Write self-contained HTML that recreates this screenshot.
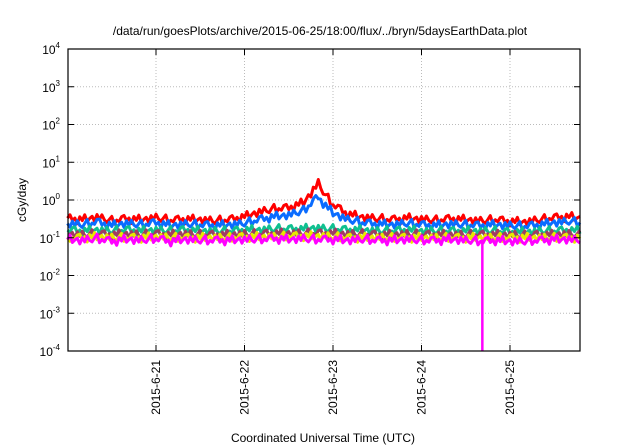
<!DOCTYPE html>
<html><head><meta charset="utf-8"><style>
html,body{margin:0;padding:0;background:#fff;}
svg{display:block;font-family:"Liberation Sans",sans-serif;}
</style></head><body>
<svg id="chart" width="640" height="448" viewBox="0 0 640 448">
<text x="320" y="35" text-anchor="middle" font-size="12">/data/run/goesPlots/archive/2015-06-25/18:00/flux/../bryn/5daysEarthData.plot</text>
<text transform="translate(26,200) rotate(-90)" text-anchor="middle" font-size="12">cGy/day</text>
<text x="323" y="442" text-anchor="middle" font-size="12">Coordinated Universal Time (UTC)</text>
<g id="grid"></g><g id="series"></g><g id="axes"></g>
</svg>
<script>
const hours = [0,4,8,12,16,20,24,28,32,36,40,44,48,52,56,60,64,66,68,70,72,76,80,84,88,92,96,100,104,108,112,116,120,124,128,132,136,139];
const red     = [0.33,0.30,0.35,0.28,0.32,0.30,0.34,0.29,0.31,0.30,0.28,0.30,0.36,0.48,0.58,0.62,0.85,1.5,2.8,1.3,0.75,0.42,0.35,0.32,0.30,0.33,0.31,0.29,0.32,0.30,0.28,0.30,0.27,0.26,0.30,0.34,0.36,0.33];
const blue    = [0.24,0.22,0.26,0.21,0.24,0.22,0.25,0.21,0.23,0.22,0.21,0.22,0.24,0.30,0.36,0.40,0.52,0.8,1.2,0.7,0.45,0.30,0.25,0.23,0.22,0.24,0.22,0.21,0.23,0.22,0.21,0.22,0.21,0.20,0.22,0.25,0.27,0.25];
const green   = [0.16,0.15,0.16,0.15,0.16,0.15,0.16,0.15,0.16,0.15,0.15,0.15,0.16,0.16,0.17,0.17,0.17,0.18,0.18,0.17,0.17,0.16,0.16,0.15,0.15,0.16,0.15,0.15,0.15,0.15,0.15,0.15,0.14,0.14,0.15,0.15,0.16,0.15];
const brown   = [0.125,0.12,0.125,0.12,0.125,0.12,0.125,0.12,0.125,0.12,0.12,0.12,0.125,0.125,0.13,0.13,0.13,0.13,0.13,0.13,0.13,0.125,0.125,0.12,0.12,0.125,0.12,0.12,0.12,0.12,0.12,0.12,0.12,0.115,0.12,0.12,0.125,0.12];
const yellow  = [0.10,0.10,0.105,0.10,0.10,0.10,0.105,0.10,0.10,0.10,0.10,0.10,0.105,0.105,0.105,0.11,0.11,0.11,0.11,0.11,0.105,0.10,0.10,0.10,0.10,0.10,0.10,0.10,0.10,0.10,0.10,0.10,0.10,0.10,0.10,0.10,0.10,0.10];
const magenta = [0.09,0.085,0.095,0.08,0.09,0.085,0.095,0.08,0.09,0.085,0.085,0.085,0.09,0.09,0.095,0.09,0.095,0.09,0.09,0.09,0.09,0.085,0.09,0.085,0.085,0.09,0.085,0.085,0.09,0.085,0.08,0.085,0.08,0.08,0.085,0.09,0.09,0.085];
const spikeHour = 112.5;
const yTickExp = [-4,-3,-2,-1,0,1,2,3,4];
const xTickLabels = ["2015-6-21","2015-6-22","2015-6-23","2015-6-24","2015-6-25"];
const xTickHours = [24,48,72,96,120];
const jitter = [-4,2,-1,5,-3,1,-5,3,0,-2,4,-3,2,-4,1,3,-1,-5,4,0,2,-3];

const L=68,R=580,T=49,B=351;
const HMAX=(R-67.5)/88.5*24;
const xs=h=>67.5+h/24*88.5;
const ys=v=>B-(Math.log10(v)+4)*(B-T)/8;
const NS="http://www.w3.org/2000/svg";
function mk(tag,attrs,parent){const e=document.createElementNS(NS,tag);for(const k in attrs)e.setAttribute(k,attrs[k]);parent.appendChild(e);return e;}
const grid=document.getElementById('grid'),ser=document.getElementById('series'),ax=document.getElementById('axes');

yTickExp.forEach(e=>{
  const y=ys(Math.pow(10,e));
  if(e>-4&&e<4){const g=mk('line',{x1:L,x2:R,y1:y,y2:y,stroke:'#bbb','stroke-dasharray':'1,2'},grid);
  
  }
  const t1=mk('line',{x1:L,x2:L+6,y1:y,y2:y,stroke:'#000'},ax);
  
  
  const t2=mk('line',{x1:R,x2:R-6,y1:y,y2:y,stroke:'#000'},ax);
  
  
  const tx=mk('text',{x:L-8,y:y+5,'text-anchor':'end','font-size':'12'},ax);
  
  
  tx.textContent='10';
  const sup=mk('tspan',{dy:-6,'font-size':'8'},tx);sup.textContent=String(e);
});
xTickHours.forEach((h,i)=>{
  const x=xs(h);
  const g=mk('line',{x1:x,x2:x,y1:T,y2:B,stroke:'#bbb','stroke-dasharray':'1,2'},grid);
  
  
  const t1=mk('line',{x1:x,x2:x,y1:B,y2:B-6,stroke:'#000'},ax);
  
  
  const t2=mk('line',{x1:x,x2:x,y1:T,y2:T+6,stroke:'#000'},ax);
  
  
  const tx=mk('text',{transform:`translate(${x+4},${B+9}) rotate(-90)`,'text-anchor':'end','font-size':'12'},ax);
  
  
  tx.textContent=xTickLabels[i];
});
const frame=mk('rect',{x:L,y:T,width:R-L,height:B-T,fill:'none',stroke:'#000','stroke-width':1.2},ax);



const list=[[magenta,'#ff00ff','magenta'],[yellow,'#e8e800','yellow'],[brown,'#a03c64','brown'],[green,'#10c090','green'],[blue,'#0a6cff','blue'],[red,'#ff0000','red']];
let jc=0;
list.slice().reverse().forEach(([arr,col,nm])=>{
  const pts=hours.map((h,i)=>[xs(Math.min(h,HMAX)),ys(arr[i])]);
  let d='';
  pts.forEach((p,i)=>{
    if(i===0){d+=`M${p[0]},${p[1]}`;return;}
    const q=pts[i-1];const n=Math.max(2,Math.round((p[0]-q[0])/2.5));
    for(let k=1;k<=n;k++){const x=q[0]+(p[0]-q[0])*k/n,y=q[1]+(p[1]-q[1])*k/n+jitter[(jc++)%jitter.length]*0.9;d+=`L${x.toFixed(1)},${y.toFixed(1)}`;}
  });
  const pa=mk('path',{d:d,fill:'none',stroke:col,'stroke-width':3,'stroke-linejoin':'round'},ser);
  
  
});
const sx=xs(spikeHour);
const sp=mk('line',{x1:sx,x2:sx,y1:ys(0.09),y2:B,stroke:'#ff00ff','stroke-width':2.5},ser);


</script>
</body></html>
